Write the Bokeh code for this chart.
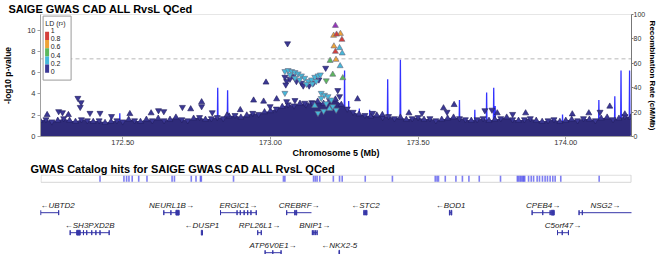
from bokeh.plotting import figure
from bokeh.models import Range1d, LinearAxis, FixedTicker, NumeralTickFormatter, Span, ColumnDataSource
from bokeh.layouts import column
from bokeh.embed import file_html
from bokeh.resources import INLINE
from bokeh.core.properties import value

FONT = "Liberation Sans"

# ---------------- data ----------------
TITLE = "SAIGE GWAS CAD ALL RvsL QCed"
CATALOG_TITLE = "GWAS Catalog hits for SAIGE GWAS CAD ALL RvsL QCed"
X_LABEL = "Chromosome 5 (Mb)"
Y_LABEL = "-log10 p-value"
Y2_LABEL = "Recombination Rate (cM/Mb)"
region = [172.2215, 174.2225]
y_max = 11.47
sig_line = 7.3
x_ticks = [172.5, 173.0, 173.5, 174.0]
y_ticks = [0, 2, 4, 6, 8, 10]
y2_ticks = [0, 20, 40, 60, 80, 100]

ld_breaks = [0.2, 0.4, 0.6, 0.8, 1.0]
ld_colors = ["#3B3895", "#46B8DA", "#5CB85C", "#EEA236", "#D43F3A"]
ld_labels = ["1", "0.8", "0.6", "0.4", "0.2", "0"]
lead_color = "#9632B8"

# dense cloud of low-significance variants: upper edge sampled along the region
env_pos = [172.22, 172.24, 172.26, 172.28, 172.30, 172.32, 172.34, 172.36, 172.38, 172.40,
           172.42, 172.44, 172.46, 172.48, 172.50, 172.52, 172.54, 172.56, 172.58, 172.60,
           172.62, 172.64, 172.66, 172.68, 172.70, 172.72, 172.74, 172.76, 172.78, 172.80,
           172.82, 172.84, 172.86, 172.88, 172.90, 172.92, 172.94, 172.96, 172.98, 173.00,
           173.02, 173.04, 173.06, 173.08, 173.10, 173.12, 173.14, 173.16, 173.18, 173.20,
           173.22, 173.24, 173.26, 173.28, 173.30, 173.32, 173.34, 173.36, 173.38, 173.40,
           173.42, 173.44, 173.46, 173.48, 173.50, 173.52, 173.54, 173.56, 173.58, 173.60,
           173.62, 173.64, 173.66, 173.68, 173.70, 173.72, 173.74, 173.76, 173.78, 173.80,
           173.82, 173.84, 173.86, 173.88, 173.90, 173.92, 173.94, 173.96, 173.98, 174.00,
           174.02, 174.04, 174.06, 174.08, 174.10, 174.12, 174.14, 174.16, 174.18, 174.20, 174.22]
env_top = [1.5, 1.6, 1.4, 1.5, 1.7, 1.5, 1.4, 1.6, 1.5, 1.4,
           1.5, 1.3, 1.4, 1.5, 1.4, 1.6, 1.5, 1.4, 1.6, 1.5,
           1.7, 1.5, 1.6, 1.8, 1.6, 1.5, 1.7, 1.8, 1.6, 1.7,
           1.8, 1.7, 1.9, 2.0, 1.8, 2.0, 2.2, 2.1, 2.3, 2.4,
           2.6, 2.8, 3.0, 2.9, 3.1, 3.0, 3.2, 3.3, 3.1, 3.4,
           3.5, 3.0, 2.6, 2.3, 2.1, 2.0, 1.9, 2.0, 1.8, 1.9,
           1.7, 1.8, 1.6, 1.7, 1.8, 1.6, 1.7, 1.5, 1.6, 1.7,
           1.8, 1.7, 1.6, 1.5, 1.6, 1.7, 1.5, 1.6, 1.7, 1.8,
           1.6, 1.5, 1.6, 1.7, 1.5, 1.4, 1.5, 1.6, 1.4, 1.5,
           1.6, 1.5, 1.7, 1.6, 1.5, 1.7, 1.8, 1.6, 1.7, 1.9, 1.8]
env_dir = list("udduduuddu" "duudduduud" "uduuddudud" "dduduudduu" "duddudduud"
               "uudduduudd" "duuddudduu" "uddudduudu" "dudduudduu" "udduduudud" "u")

# individually visible variants
snp_pos = [172.244, 172.283, 172.296, 172.316, 172.348, 172.359, 172.356, 172.389, 172.423, 172.462,
           172.524, 172.596, 172.621, 172.639, 172.702, 172.730, 172.767, 172.767, 172.803, 172.853,
           172.898, 172.943, 172.977, 173.021, 172.999, 173.055, 173.083, 173.116, 173.144, 173.295,
           173.379, 173.346, 173.469, 173.513, 173.586, 173.622, 173.598, 173.726, 173.768, 173.750,
           173.820, 173.864, 174.022, 174.078, 174.149, 174.116, 174.200,
           173.049, 173.055, 173.066, 173.077, 173.088, 173.105, 173.111, 173.131, 173.146, 173.164,
           173.052, 173.187, 173.058, 172.985, 173.228, 173.234,
           173.049, 173.060, 173.072, 173.083, 173.094, 173.066, 173.105, 173.116, 173.128, 173.139,
           173.150, 173.161, 173.169, 173.122, 173.142, 173.155, 173.083, 173.099,
           173.172, 173.183, 173.195, 173.172, 173.206, 173.189, 173.211, 173.2225, 173.161, 173.150,
           173.200, 173.180, 173.234, 173.243, 173.236, 173.049,
           173.202, 173.211, 173.189, 173.245,
           173.214, 173.237, 173.215, 173.222,
           173.224, 173.242, 173.220,
           173.220]
snp_logp = [2.04, 2.36, 2.26, 2.04, 3.61, 3.20, 2.76, 2.20, 2.20, 1.90,
            2.13, 2.20, 2.45, 2.36, 2.76, 2.58, 3.24, 2.83, 2.26, 2.00,
            2.50, 3.40, 3.30, 3.52, 2.83, 3.30, 3.40, 3.15, 3.15, 3.52,
            2.04, 2.20, 2.20, 2.20, 2.67, 2.98, 2.30, 2.45, 2.20, 2.50,
            2.10, 2.20, 2.10, 2.20, 2.83, 2.30, 2.10,
            5.59, 5.19, 5.41, 5.66, 5.19, 5.03, 4.77, 4.77, 5.03, 5.34,
            4.87, 6.44, 8.74, 5.09, 4.34, 3.77,
            6.13, 6.23, 6.13, 6.04, 5.91, 5.81, 5.72, 5.50, 5.19, 5.34,
            5.59, 5.72, 5.81, 4.93, 4.96, 5.19, 5.50, 5.34,
            4.08, 3.90, 3.77, 3.60, 3.45, 3.10, 2.83, 2.50, 2.20, 2.90,
            2.60, 2.40, 8.33, 7.83, 6.63, 4.08,
            7.13, 5.83, 5.26, 5.50,
            9.49, 9.67, 8.49, 7.23,
            9.60, 9.11, 7.98,
            10.42]
snp_r2 = [0.05] * 47 + [0.1] * 16 + [0.3] * 18 + [0.3] * 16 + [0.5] * 4 + [0.7] * 4 + [0.9] * 3 + [1.0]
snp_dir = list("uddudddddd" "uuddduuddu" "uuuudddddu" "ududuuddud" "duuuudu"
               "dddddddddddddudd"
               "dddddddddddddddddd"
               "ddddddddduuduuud"
               "uudu" "uuuu" "uuu" "u")
assert len(snp_pos) == len(snp_logp) == len(snp_r2) == len(snp_dir)
assert len(env_pos) == len(env_top) == len(env_dir)

# recombination rate (cM/Mb)
recomb_pos = [172.2215, 172.4885, 172.490, 172.4915, 172.820, 172.8215, 172.823, 172.8535, 172.855, 172.8565,
              173.2495, 173.251, 173.2525, 173.2635, 173.265, 173.2665, 173.2995, 173.301, 173.3025,
              173.3345, 173.336, 173.3375, 173.3955, 173.397, 173.3985, 173.4385, 173.440, 173.4415,
              173.6385, 173.640, 173.6415, 173.6905, 173.692, 173.6935, 173.7305, 173.732, 173.7335,
              173.7545, 173.756, 173.7575, 173.7595, 173.761, 173.7625, 173.9875, 173.989, 173.9905,
              174.1105, 174.112, 174.1135, 174.1645, 174.166, 174.1675, 174.1855, 174.187, 174.1885,
              174.2145, 174.216, 174.2175, 174.2225]
recomb_rate = [1.5, 2, 19, 2, 2, 40, 2, 2, 38, 2,
               3, 54, 3, 3, 29, 3, 2, 23, 2,
               2, 22, 2, 2, 47, 2, 2, 63, 2,
               2, 30, 2, 2, 22, 2, 2, 36, 2,
               2, 40, 3, 3, 25, 2, 1.5, 18, 1.5,
               2, 30, 2, 2, 33, 2, 2, 54, 2,
               2, 54, 2, 1.5]
assert len(recomb_pos) == len(recomb_rate)

# GWAS catalog hits (Mb)
catalog_pos = [172.423, 172.504, 172.513, 172.521, 172.532, 172.554, 172.582, 172.667, 172.675, 172.732,
               172.748, 172.763, 172.766, 172.875, 173.044, 173.049, 173.146, 173.152, 173.158, 173.167,
               173.213, 173.234, 173.243, 173.321, 173.413, 173.558, 173.564, 173.569, 173.592, 173.628,
               173.650, 173.672, 173.707, 173.779, 173.836, 173.840, 173.845, 173.849, 173.854, 173.857,
               173.861, 173.874, 173.883, 173.891, 173.903, 173.911, 173.921, 173.930, 173.938, 173.947,
               173.956, 173.964, 173.983, 174.113]

# genes
gene_name = ["UBTD2", "NEURL1B", "ERGIC1", "CREBRF", "STC2", "BOD1", "CPEB4", "NSG2",
             "SH3PXD2B", "DUSP1", "RPL26L1", "BNIP1", "C5orf47", "ATP6V0E1", "NKX2-5"]
gene_start = [172.222, 172.639, 172.831, 173.055, 173.316, 173.606, 173.886, 174.045,
              172.322, 172.766, 172.957, 173.142, 173.972, 172.982, 173.232]
gene_end = [172.283, 172.691, 172.952, 173.139, 173.327, 173.614, 173.961, 174.240,
            172.454, 172.770, 172.969, 173.158, 174.009, 173.036, 173.234]
gene_strand = ["-", "+", "+", "+", "-", "-", "+", "+", "-", "-", "+", "+", "+", "+", "-"]
gene_row = [1, 1, 1, 1, 1, 1, 1, 1, 2, 2, 2, 2, 2, 3, 3]
gene_exons = [
    [(172.222, 172.222), (172.283, 172.283)],
    [(172.639, 172.639), (172.663, 172.663), (172.680, 172.691)],
    [(172.831, 172.831), (172.887, 172.887), (172.898, 172.898), (172.911, 172.911),
     (172.923, 172.923), (172.934, 172.934), (172.952, 172.952)],
    [(173.055, 173.055), (173.082, 173.084), (173.087, 173.089)],
    [(173.316, 173.318), (173.321, 173.322), (173.325, 173.327)],
    [(173.606, 173.608), (173.612, 173.614)],
    [(173.886, 173.886), (173.922, 173.922), (173.947, 173.947), (173.951, 173.961)],
    [(174.045, 174.045), (174.056, 174.056)],
    [(172.322, 172.322), (172.344, 172.356), (172.367, 172.367), (172.378, 172.378),
     (172.395, 172.395), (172.409, 172.409), (172.423, 172.423), (172.454, 172.454)],
    [(172.766, 172.770)],
    [(172.957, 172.957), (172.969, 172.969)],
    [(173.142, 173.142), (173.147, 173.147), (173.152, 173.152), (173.158, 173.158)],
    [(173.972, 173.972), (173.988, 173.988), (174.009, 174.009)],
    [(172.982, 172.982), (173.008, 173.008), (173.036, 173.036)],
    [(173.232, 173.234)],
]

# ---------------- layout constants (pixels) ----------------
FW, FH = 591, 122          # association frame
BL, BR = 34, 23
P2_PADR = 10               # extra frame room on the right of the lower panel
FH2 = 80
NAVY_LINE = "#211E5E"
MASS = "#2F2B7A"
GENE = "#3636A8"
RECOMB = "#0000FF"
HIT = "#2A2AE8"
MSIZE = 6

mb_per_px = (region[1] - region[0]) / FW
y_per_px = y_max / FH


def lx(px):
    return region[0] + px * mb_per_px


def ly(py):
    return y_max - py * y_per_px


def ld_color(r2, lead):
    if lead:
        return lead_color
    for b, c in zip(ld_breaks, ld_colors):
        if r2 < b:
            return c
    return ld_colors[-1]


def style_title(fig, text, offset):
    fig.title.text = text
    fig.title.text_font = FONT
    fig.title.text_font_size = "11px"
    fig.title.text_font_style = "bold"
    fig.title.text_color = "#000000"
    fig.title.align = "left"
    fig.title.offset = offset
    fig.title.standoff = 0


# ---------------- association panel ----------------
p1 = figure(frame_width=FW, frame_height=FH, x_range=Range1d(*region), y_range=Range1d(0, y_max),
            output_backend="svg", toolbar_location=None,
            min_border_left=BL, min_border_right=BR, min_border_top=0, min_border_bottom=0)
style_title(p1, TITLE, -32)
p1.extra_y_ranges = {"recomb": Range1d(0, 100)}
p1.xgrid.visible = False
p1.ygrid.visible = False
p1.outline_line_color = "#E6E6E6"

p1.xaxis.ticker = FixedTicker(ticks=x_ticks)
p1.xaxis.formatter = NumeralTickFormatter(format="0.00")
p1.xaxis.axis_label = X_LABEL
p1.yaxis.ticker = FixedTicker(ticks=y_ticks)
p1.yaxis.axis_label = Y_LABEL

ax_r = LinearAxis(y_range_name="recomb", axis_label=Y2_LABEL, ticker=FixedTicker(ticks=y2_ticks))
p1.add_layout(ax_r, "right")

for ax in [p1.xaxis[0], p1.yaxis[0], ax_r]:
    ax.major_label_text_font = FONT
    ax.major_label_text_font_size = "7.5px"
    ax.major_label_text_color = "#333333"
    ax.axis_label_text_font = FONT
    ax.axis_label_text_font_style = "bold"
    ax.axis_label_text_color = "#000000"
    ax.axis_line_color = "#A0A0A0"
    ax.major_tick_line_color = "#A0A0A0"
    ax.minor_tick_line_color = None
    ax.major_tick_in = 0
    ax.major_tick_out = 3
    ax.major_label_standoff = 2
p1.xaxis[0].major_label_standoff = 0
p1.xaxis[0].axis_label_standoff = 0
p1.xaxis[0].axis_label_text_font_size = "9px"
p1.yaxis[0].axis_label_standoff = 11
p1.yaxis[0].axis_label_text_font_size = "8.5px"
ax_r.major_tick_out = 2
ax_r.axis_label_standoff = 0
ax_r.major_label_standoff = 0
ax_r.major_label_text_font_size = "7px"
ax_r.axis_label_text_font_size = "8px"
ax_r.axis_line_color = "#777777"
ax_r.major_tick_line_color = "#777777"

p1.add_layout(Span(location=sig_line, dimension="width", line_color="#D0D0D0",
                   line_dash="4 3", line_width=1.5, level="underlay"))

# recombination rate line
p1.line(recomb_pos, recomb_rate, y_range_name="recomb", line_color=RECOMB, line_width=1.3, line_alpha=0.8)

# dense cloud
p1.varea(x=env_pos, y1=[0] * len(env_pos), y2=env_top, fill_color=MASS)
env_marker = ["triangle" if d == "u" else "inverted_triangle" for d in env_dir]
p1.scatter(x=env_pos, y=env_top, marker=env_marker, size=MSIZE, fill_color=ld_colors[0],
           line_color=NAVY_LINE, line_width=0.6)

# individual variants, drawn by increasing LD
lead_idx = max(range(len(snp_logp)), key=lambda i: snp_logp[i])
order = sorted(range(len(snp_pos)), key=lambda i: (snp_r2[i], i == lead_idx))
src = ColumnDataSource(dict(
    x=[snp_pos[i] for i in order],
    y=[snp_logp[i] for i in order],
    marker=["triangle" if snp_dir[i] == "u" else "inverted_triangle" for i in order],
    fill=[ld_color(snp_r2[i], i == lead_idx) for i in order],
    line=[NAVY_LINE if snp_r2[i] < ld_breaks[0] else "#6A6A80" for i in order],
))
p1.scatter(x="x", y="y", marker="marker", source=src, size=MSIZE, fill_color="fill",
           line_color="line", line_width=0.6)

# LD legend (positions in pixels from the frame's top-left corner)
p1.quad(left=lx(2.6), right=lx(30.6), top=ly(1.6), bottom=ly(65.6), fill_color="white",
        line_color="#9A9A9A", line_width=1)
p1.text(x=[lx(4.8)], y=[ly(8.5)], text=["LD (r²)"], text_font=value(FONT), text_font_size="7px",
        text_baseline="middle", text_align="left", text_color="#222222")
bar_top = 17.3
bar_h = 8.2
cols_top_down = list(reversed(ld_colors))
p1.quad(left=[lx(4.6)] * 5, right=[lx(8.6)] * 5,
        top=[ly(bar_top + i * bar_h) for i in range(5)],
        bottom=[ly(bar_top + (i + 1) * bar_h) for i in range(5)],
        fill_color=cols_top_down, line_color=None)
p1.text(x=[lx(10.2)] * 6, y=[ly(bar_top - 1.3 + i * bar_h) for i in range(6)], text=ld_labels,
        text_font=value(FONT), text_font_size="7px", text_baseline="middle", text_align="left",
        text_color="#222222")

# ---------------- catalog + genes panel ----------------
# y in pixels from the top of this panel's frame (range inverted)
p2 = figure(frame_width=FW + P2_PADR, frame_height=FH2,
            x_range=Range1d(region[0], lx(FW + P2_PADR)), y_range=Range1d(FH2, 0),
            x_axis_location=None, y_axis_location=None, output_backend="svg", toolbar_location=None,
            min_border_left=BL, min_border_right=BR - P2_PADR, min_border_top=0, min_border_bottom=0)
style_title(p2, CATALOG_TITLE, -10)
p2.xgrid.visible = False
p2.ygrid.visible = False
p2.outline_line_color = None

BOX_T, BOX_B = 0.6, 7.8
ROW0, ROW_H, LABEL_UP, EXON_H = 38.2, 20.0, 6.8, 2.4

p2.quad(left=region[0] + 0.5 * mb_per_px, right=region[1] - 0.5 * mb_per_px, top=BOX_T, bottom=BOX_B,
        fill_color=None, line_color="#D6D6D6", line_width=1)
p2.segment(x0=catalog_pos, y0=[BOX_T + 0.6] * len(catalog_pos), x1=catalog_pos,
           y1=[BOX_B - 0.6] * len(catalog_pos), line_color=HIT, line_alpha=0.6, line_width=1.6)

gx0, gx1, gy, tx, ty, tt, ta = [], [], [], [], [], [], []
ex_l, ex_r, ex_t, ex_b = [], [], [], []
for i, name in enumerate(gene_name):
    s = max(gene_start[i], region[0])
    e = min(gene_end[i], region[1])
    y = ROW0 + (gene_row[i] - 1) * ROW_H
    gx0.append(s); gx1.append(e); gy.append(y)
    label = ("←" + name) if gene_strand[i] == "-" else (name + "→")
    mid = (s + e) / 2
    half = len(label) * 2.6 * mb_per_px
    if mid - half < region[0]:
        tx.append(region[0]); ta.append("left")
    elif mid + half > region[1]:
        tx.append(region[1]); ta.append("right")
    else:
        tx.append(mid); ta.append("center")
    ty.append(y - LABEL_UP); tt.append(label)
    for (a, b) in gene_exons[i]:
        ex_l.append(a); ex_r.append(b); ex_t.append(y - EXON_H); ex_b.append(y + EXON_H)

p2.segment(x0=gx0, y0=gy, x1=gx1, y1=gy, line_color=GENE, line_width=1)
p2.quad(left=ex_l, right=ex_r, top=ex_t, bottom=ex_b, fill_color=GENE, line_color=GENE, line_width=1)
p2.text(x=tx, y=ty, text=tt, text_align=ta, text_font=value(FONT), text_font_style="italic",
        text_font_size="8px", text_baseline="middle", text_color="#222222")

layout = column(p1, p2)
open("out.html", "w").write(file_html(layout, INLINE))
